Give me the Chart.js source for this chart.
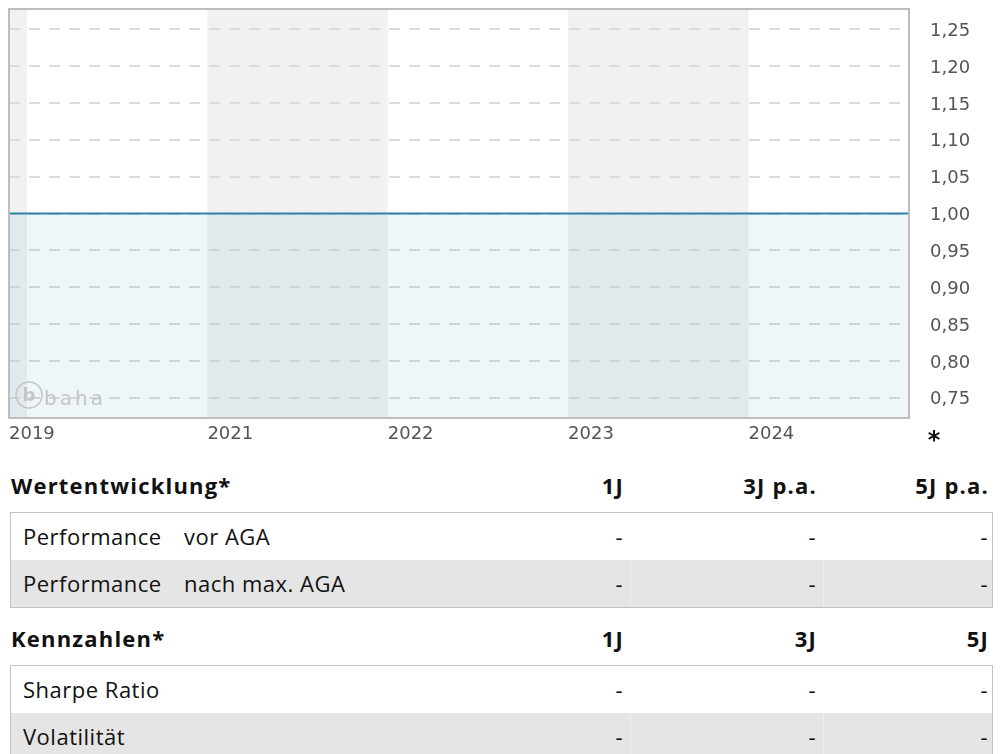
<!DOCTYPE html>
<html lang="de">
<head>
<meta charset="utf-8">
<title>Wertentwicklung</title>
<script src="https://cdn.jsdelivr.net/npm/chart.js@4.4.1/dist/chart.umd.min.js"></script>
<style>
  html, body { margin: 0; padding: 0; background: #fff; }
  body { width: 1002px; height: 754px; overflow: hidden; font-family: "Open Sans", "Lato", sans-serif; color: #111; }
  .chart-box { position: relative; width: 1002px; height: 455px; }

  .hd { height: 57px; box-sizing: border-box; padding-top: 16px; line-height: 29px; font-size: 22px; font-weight: 700; letter-spacing: 1.2px; display: flex; margin-left: 11px; }
  .box { margin-left: 10px; width: 983px; box-sizing: border-box; border: 1px solid #c2c2c2; }
  .row { height: 47px; line-height: 46px; font-size: 22px; letter-spacing: 0.5px; display: flex; }
  .row.alt { background: #e5e5e5; }
  .lbl { width: 426px; flex: none; box-sizing: border-box; }
  .row .lbl { padding-left: 12px; }
  .lbl .sub { display: inline-block; width: 161px; }
  .c { flex: none; box-sizing: border-box; text-align: right; }
  .c1, .c2 { width: 193px; padding-right: 7px; }
  .c3 { width: 169px; padding-right: 4px; }
  .hd .c1, .hd .c2 { padding-right: 6px; }
  .hd .c3 { padding-right: 3px; }
  .row .c2, .row .c3 { box-shadow: inset 1px 0 0 rgba(255,255,255,0.35); }
</style>
</head>
<body>
<div class="chart-box"><canvas id="navChart"></canvas></div>

<div class="hd"><span class="lbl">Wertentwicklung*</span><span class="c c1">1J</span><span class="c c2">3J p.a.</span><span class="c c3">5J p.a.</span></div>
<div class="box">
  <div class="row"><span class="lbl"><span class="sub">Performance</span>vor AGA</span><span class="c c1">-</span><span class="c c2">-</span><span class="c c3">-</span></div>
  <div class="row alt"><span class="lbl"><span class="sub">Performance</span>nach max. AGA</span><span class="c c1">-</span><span class="c c2">-</span><span class="c c3">-</span></div>
</div>

<div class="hd"><span class="lbl">Kennzahlen*</span><span class="c c1">1J</span><span class="c c2">3J</span><span class="c c3">5J</span></div>
<div class="box">
  <div class="row"><span class="lbl">Sharpe Ratio</span><span class="c c1">-</span><span class="c c2">-</span><span class="c c3">-</span></div>
  <div class="row alt"><span class="lbl">Volatilität</span><span class="c c1">-</span><span class="c c2">-</span><span class="c c3">-</span></div>
</div>

<script>
// Kursverlauf (indexiert) – Zeitachse in Jahren als Dezimalzahl
const navDates = [2019.9, 2024.89];
const navValues = [1.0, 1.0];

// Achsenbeschriftung
const yearTicks = [2019.9, 2021, 2022, 2023, 2024];
const yearLabels = ["2019", "2021", "2022", "2023", "2024"];
const shadedYears = [2019, 2021, 2023];
const valueTicks = [0.75, 0.80, 0.85, 0.90, 0.95, 1.00, 1.05, 1.10, 1.15, 1.20, 1.25];
const valueMin = 0.7225;
const valueMax = 1.2775;

const AXIS_FONT = { family: "DejaVu Sans", size: 18 };

// graue Jahresstreifen hinter dem Raster
const yearBands = {
  id: "yearBands",
  beforeDraw(chart) {
    const { ctx, chartArea: a, scales: { x } } = chart;
    ctx.save();
    ctx.fillStyle = "#f1f1f1";
    shadedYears.forEach((yr) => {
      const x0 = Math.max(a.left, x.getPixelForValue(yr));
      const x1 = Math.min(a.right, x.getPixelForValue(yr + 1));
      if (x1 > x0) ctx.fillRect(x0, a.top, x1 - x0, a.bottom - a.top);
    });
    ctx.restore();
  },
};

// Rahmen, baha-Logo und Fußnoten-Stern
const frame = {
  id: "frame",
  afterDraw(chart) {
    const { ctx, chartArea: a } = chart;
    ctx.save();

    // Logo unten links
    ctx.strokeStyle = "#c4c4c4";
    ctx.fillStyle = "#c4c4c4";
    ctx.lineWidth = 1.5;
    ctx.beginPath();
    ctx.arc(29, 395, 13, 0, Math.PI * 2);
    ctx.stroke();
    ctx.textBaseline = "alphabetic";
    ctx.textAlign = "center";
    ctx.font = "bold 18px 'DejaVu Sans'";
    ctx.fillText("b", 29, 401);
    ctx.textAlign = "left";
    ctx.font = "20px 'DejaVu Sans'";
    ctx.letterSpacing = "3px";
    ctx.fillText("baha", 44, 405);
    ctx.letterSpacing = "0px";

    // Plotrahmen
    ctx.strokeStyle = "#bdbdbd";
    ctx.lineWidth = 2;
    ctx.strokeRect(a.left, a.top, a.right - a.left, a.bottom - a.top);

    ctx.fillStyle = "#111";
    ctx.textAlign = "center";
    ctx.font = "bold 24px 'DejaVu Sans'";
    ctx.fillText("*", 934, 448);
    ctx.restore();
  },
};

new Chart(document.getElementById("navChart"), {
  type: "line",
  data: {
    datasets: [
      {
        data: navDates.map((d, i) => ({ x: d, y: navValues[i] })),
        borderColor: "#2a85a6",
        borderWidth: 2,
        backgroundColor: "rgba(30, 130, 170, 0.07)",
        fill: "start",
        pointRadius: 0,
        tension: 0,
      },
    ],
  },
  options: {
    responsive: true,
    maintainAspectRatio: false,
    animation: false,
    layout: { padding: { left: 9, top: 9, right: 0, bottom: 0 } },
    plugins: { legend: { display: false }, tooltip: { enabled: false } },
    scales: {
      x: {
        type: "linear",
        min: navDates[0],
        max: navDates[navDates.length - 1],
        afterBuildTicks: (scale) => { scale.ticks = yearTicks.map((v) => ({ value: v })); },
        afterFit: (scale) => {
          scale.height = 37;
          scale.paddingLeft = 0;
          scale.paddingRight = 0;
        },
        grid: { display: false },
        border: { display: false },
        ticks: {
          autoSkip: false,
          maxRotation: 0,
          align: "start",
          padding: -2,
          color: "#555",
          font: AXIS_FONT,
          callback: (v, i) => yearLabels[i],
        },
      },
      y: {
        position: "right",
        min: valueMin,
        max: valueMax,
        afterBuildTicks: (scale) => { scale.ticks = valueTicks.map((v) => ({ value: v })); },
        afterFit: (scale) => {
          scale.width = 93;
          scale.paddingTop = 0;
          scale.paddingBottom = 0;
        },
        grid: { color: "#dcdcdc", lineWidth: 2, drawTicks: false },
        border: { display: false, dash: [11, 9] },
        ticks: {
          padding: 21,
          labelOffset: 2,
          color: "#555",
          font: AXIS_FONT,
          callback: (v) => v.toFixed(2).replace(".", ","),
        },
      },
    },
  },
  plugins: [yearBands, frame],
});
</script>
</body>
</html>
